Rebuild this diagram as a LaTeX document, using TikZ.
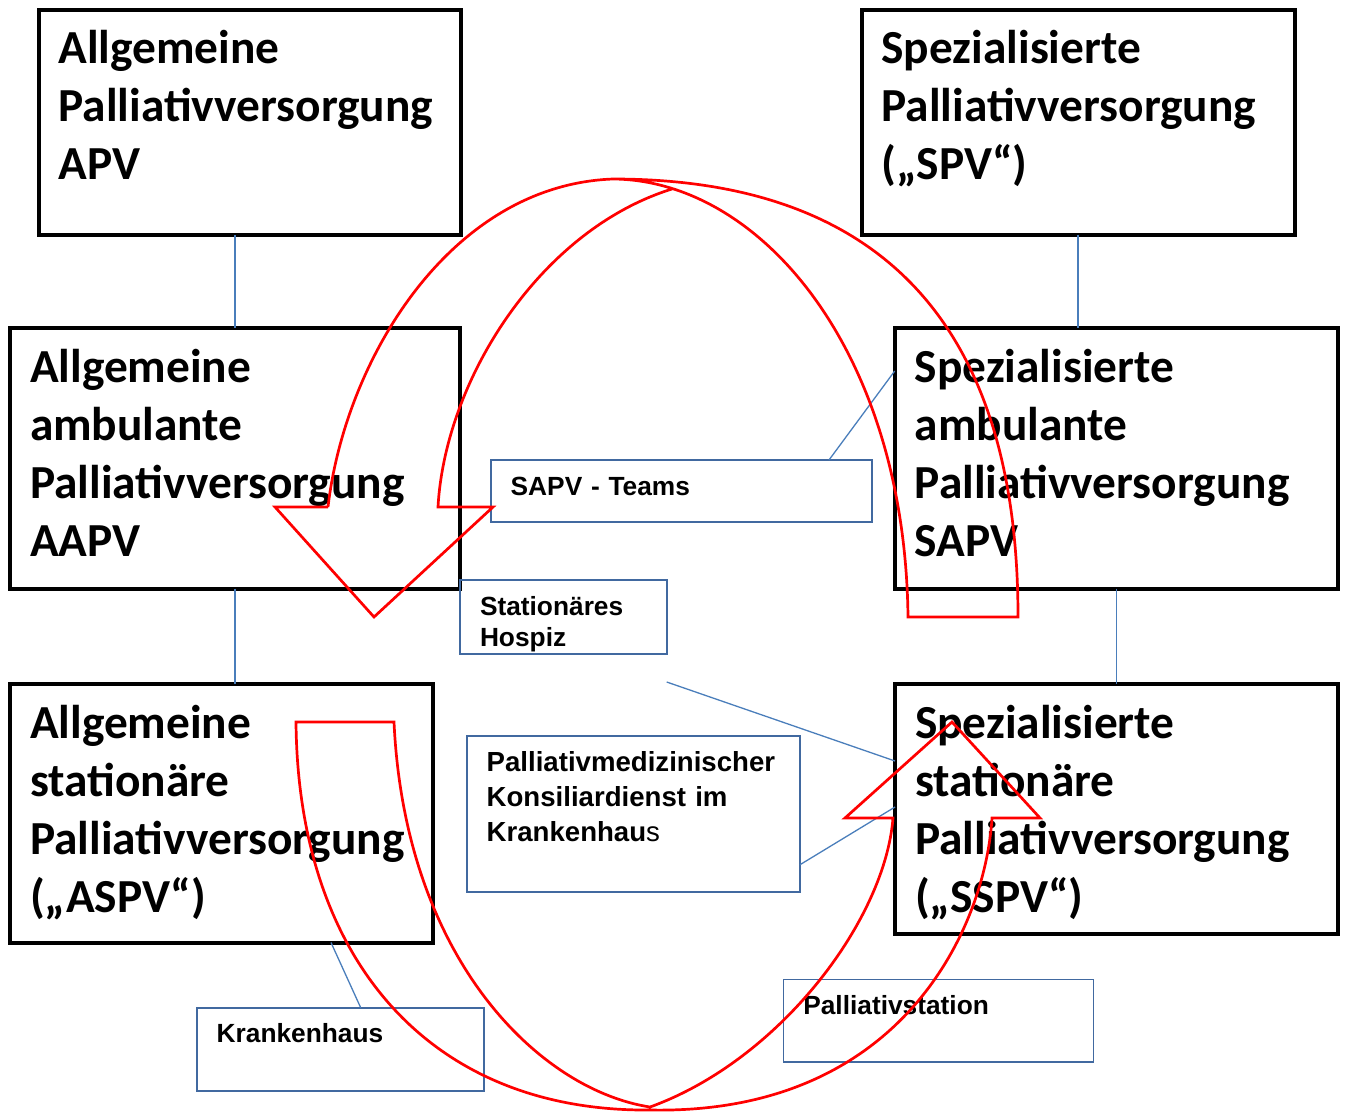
\documentclass[tikz,border=0pt]{standalone}
\usepackage{fontspec}
\usepackage{tikz}
\newfontfamily\stufefont{Carlito}
\newfontfamily\ortfont{Liberation Sans}
\definecolor{ortblue}{RGB}{65,105,160}
\definecolor{linkblue}{RGB}{74,126,187}

\begin{document}
\begin{tikzpicture}[
    x=1pt, y=-1pt,
    stufe/.style={draw, rectangle, line width=4pt, outer sep=0pt, anchor=north west, align=left, inner xsep=20pt, inner ysep=18pt, text height=36pt, font=\stufefont\bfseries\fontsize{47.4}{58}\selectfont},
    ort/.style={draw=ortblue, rectangle, line width=1.6pt, outer sep=0pt, anchor=north west, align=left, inner xsep=20pt, inner ysep=15pt, text height=20pt, font=\ortfont\bfseries\fontsize{26.3}{31}\selectfont},
    link/.style={draw=linkblue, line width=1.3pt},
    bogen/.style={draw=red, line width=2.7pt, line join=miter}
]
\useasboundingbox (0,0) rectangle (1349,1111);

% Versorgungsstufen
\node (apv) [stufe, text width=382pt, text depth=153pt] at (38.5,9.5) {Allgemeine\\Palliativversorgung\\APV};
\node (spv) [stufe, text width=393pt, text depth=153pt] at (861.5,9.5) {Spezialisierte\\Palliativversorgung\\(„SPV“)};
\node (aapv) [stufe, text width=410pt, text depth=188.5pt] at (10,328) {Allgemeine\\ambulante\\Palliativversorgung\\AAPV};
\node (sapv) [stufe, text width=403pt, text depth=188.7pt] at (894.7,328) {Spezialisierte\\ambulante\\Palliativversorgung\\SAPV};
\node (aspv) [stufe, text width=382.5pt, text depth=186.5pt] at (10,684) {Allgemeine\\stationäre\\Palliativversorgung\\(„ASPV“)};
\node (sspv) [stufe, text width=403pt, text depth=178pt] at (895,684) {Spezialisierte\\stationäre\\Palliativversorgung\\(„SSPV“)};

% Einrichtungen
\node (teams) [ort, text width=341.3pt, text depth=12pt] at (490.7,460) {SAPV - Teams};
\node (hospiz) [ort, text width=166.7pt, text depth=24pt] at (460,580) {Stationäres\\Hospiz};
\node (konsil) [ort, text width=293.3pt, text depth=105.7pt, font=\ortfont\bfseries\fontsize{27.6}{35}\selectfont] at (466.7,736) {Palliativmedizinischer\\Konsiliardienst im\\Krankenhau{\mdseries s}};
\node (kh) [ort, text width=247.3pt, text depth=33.3pt] at (196.7,1007.7) {Krankenhaus};
\node (pst) [ort, text width=270pt, text depth=32.4pt] at (783.3,979.3) {Palliativstation};

% Verbindungen
\draw [link] (aapv.north) -- (aapv.north |- apv.south);
\draw [link] (spv.south) -- (spv.south |- sapv.north);
\draw [link] (aapv.south) -- (aapv.south |- aspv.north);
\draw [link] (sapv.south) -- (sapv.south |- sspv.north);
\draw [link] ([xshift=-43pt]teams.north east) -- ([yshift=-43pt]sapv.north west);
\draw [link] ([yshift=-28pt]hospiz.south east) -- ([yshift=-77pt]sspv.north west);
\draw [link] ([yshift=27pt]konsil.south east) -- ([yshift=-123pt]sspv.north west);
\draw [link] ([xshift=321pt]aspv.south west) -- ([xshift=164pt]kh.north west);

% Pfeile
\draw [bogen] (328,507) .. controls (345,360) and (450,185) .. (613,179)
  .. controls (920,179) and (1018,370) .. (1018,617)
  -- (908,617)
  .. controls (905,350) and (760,180) .. (613,179)
  (672,189) .. controls (540,230) and (445,380) .. (438,507)
  -- (493,507) -- (374,617) -- (275,507) -- (328,507);
\draw [bogen] (296,722) .. controls (298,960) and (430,1112) .. (650,1110)
  .. controls (900,1115) and (985,930) .. (992,818)
  -- (1040,818) -- (952,722) -- (845,818) -- (893,818)
  .. controls (885,920) and (780,1060) .. (650,1107)
  .. controls (540,1090) and (405,960) .. (394,722)
  -- cycle;

\end{tikzpicture}
\end{document}
